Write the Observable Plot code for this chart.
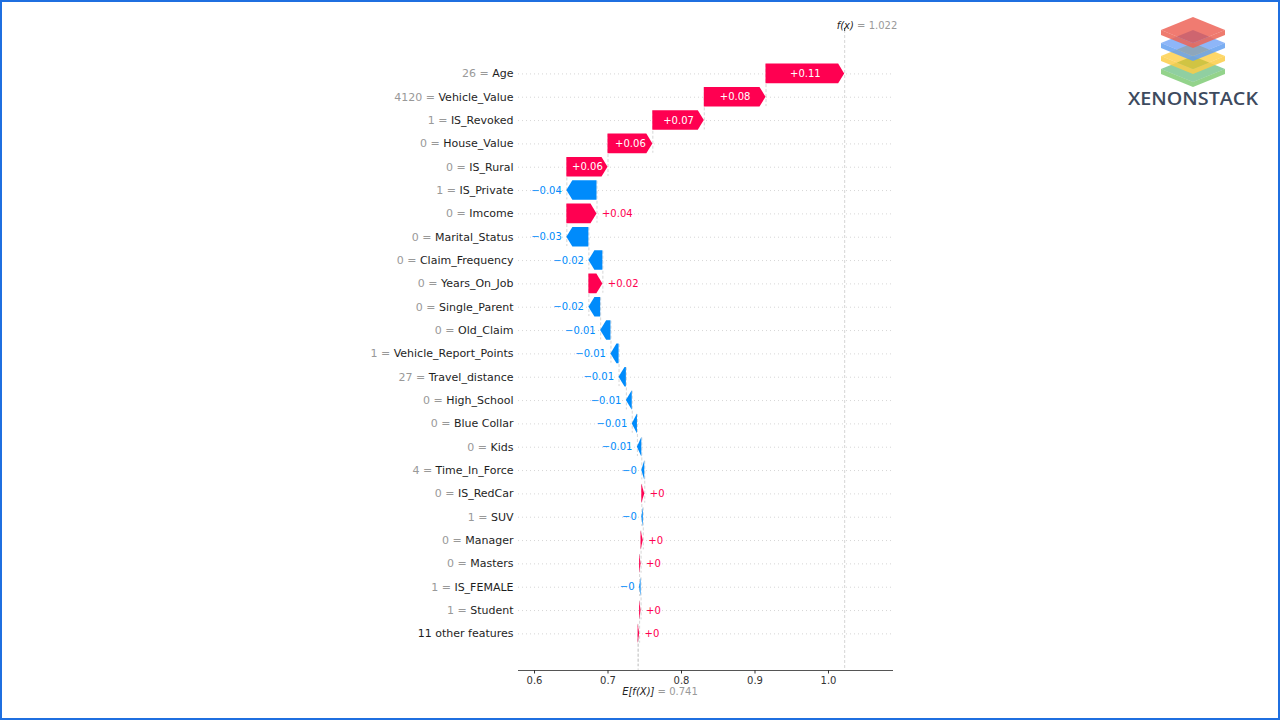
<!DOCTYPE html>
<html><head><meta charset="utf-8">
<script src="https://cdn.jsdelivr.net/npm/d3@7"></script>
<script src="https://cdn.jsdelivr.net/npm/@observablehq/plot@0.6"></script>
<style>
html,body{margin:0;padding:0;background:#fff;}
#wrap{position:relative;width:1280px;height:720px;overflow:hidden;background:#fff;}
#chart{position:absolute;left:0;top:0;}
#logo{position:absolute;left:1110px;top:0;}
#frame{position:absolute;left:0;top:0;width:1280px;height:720px;box-sizing:border-box;border:2px solid #1f6fe0;pointer-events:none;}
</style></head><body>
<div id="wrap">
<div id="chart"></div>
<div id="logo">
<svg width="160" height="115" viewBox="0 0 160 115">
  <g id="layers"></g>
  <text x="83" y="105" text-anchor="middle" font-family="'Open Sans', sans-serif" font-weight="600" font-size="18" fill="#3d4a5e" textLength="130" lengthAdjust="spacingAndGlyphs">XENONSTACK</text>
</svg>
</div>
<div id="frame"></div>
</div>
<script>
// ---- data ----
const features = ["Age","Vehicle_Value","IS_Revoked","House_Value","IS_Rural","IS_Private","Imcome","Marital_Status","Claim_Frequency","Years_On_Job","Single_Parent","Old_Claim","Vehicle_Report_Points","Travel_distance","High_School","Blue Collar","Kids","Time_In_Force","IS_RedCar","SUV","Manager","Masters","IS_FEMALE","Student","11 other features"];
const featureValues = ["26","4120","1","0","0","1","0","0","0","0","0","0","1","27","0","0","0","4","0","1","0","0","1","1",""];
const shapValues = [0.107,0.084,0.070,0.061,0.056,-0.041,0.041,-0.030,-0.019,0.019,-0.016,-0.014,-0.011,-0.010,-0.008,-0.007,-0.006,-0.004,0.004,-0.002,0.003,0.002,-0.002,0.002,0.002];
const baseValue = 0.741;
const fxValue = 1.022;
const xTicks = [0.6,0.7,0.8,0.9,1.0];

// ---- layout ----
const W = 1280, H = 720, mL = 518, mR = 388, mT = 30, mB = 50;
const xDomain = [0.5782, 1.0871];
const yDomain = [-1.86, 25.57];
const ppu = (W - mL - mR) / (xDomain[1] - xDomain[0]);
const RED = "#ff0051", BLUE = "#008bfb";
const FONT = "DejaVu Sans";

const ctx = document.createElement("canvas").getContext("2d");
function tw(s, size, style = "") { ctx.font = `${style} ${size}px "${FONT}"`; return ctx.measureText(s).width; }
function fmt(v) {
  let s = Math.abs(v).toFixed(2).replace(/0+$/, "").replace(/\.$/, "");
  return (v >= 0 ? "+" : "\u2212") + s;
}

const n = features.length;
const starts = new Array(n), ends = new Array(n);
let loc = baseValue;
for (let r = n - 1; r >= 0; r--) { starts[r] = loc; loc += shapValues[r]; ends[r] = loc; }

const rows = features.map((f, r) => ({r, name: f, fv: featureValues[r], v: shapValues[r], s: starts[r], e: ends[r], label: fmt(shapValues[r])}));

const hl = 6 / ppu, bh = 0.42;
const poly = [];
for (const d of rows) {
  const dist = d.e - d.s, sg = Math.sign(dist), h = Math.min(Math.abs(dist), hl);
  const neck = d.e - sg * h, col = d.v >= 0 ? RED : BLUE;
  poly.push({r: d.r, y: d.r - bh, x1: d.s, x2: neck, c: col});
  poly.push({r: d.r, y: d.r, x1: d.s, x2: d.e, c: col});
  poly.push({r: d.r, y: d.r + bh, x1: d.s, x2: neck, c: col});
}

const inside = rows.filter(d => Math.abs(d.e - d.s) * ppu - 6 > tw(d.label, 10) + 2);
const outside = rows.filter(d => !inside.includes(d));

const grayLabels = rows.filter(d => d.fv !== "").map(d => ({r: d.r, t: d.fv + " =", x: xDomain[0] - (5 + tw(d.name, 11) + tw(" ", 11)) / ppu}));

const fxW = tw("f(x)", 10, "italic");
const eW = tw("E[f(X)]", 10, "italic");
const spW = tw(" ", 10);

const chart = Plot.plot({
  width: W, height: H,
  marginLeft: mL, marginRight: mR, marginTop: mT, marginBottom: mB,
  x: {domain: xDomain},
  y: {domain: yDomain, reverse: true, axis: null},
  color: {type: "identity"},
  style: {fontFamily: FONT, background: "transparent"},
  marks: [
    Plot.ruleY(rows, {y: "r", stroke: "#cccccc", strokeWidth: 0.8, strokeDasharray: "1,3"}),
    Plot.ruleX(rows, {x: "s", y1: d => d.r - 0.4, y2: d => d.r + 1.4, stroke: "#bbbbbb", strokeWidth: 0.6, strokeDasharray: "3,2"}),
    Plot.ruleX([fxValue], {stroke: "#bbbbbb", strokeWidth: 0.6, strokeDasharray: "3,2"}),
    Plot.ruleX([baseValue], {y1: n - 1, y2: yDomain[1], stroke: "#bbbbbb", strokeWidth: 0.6, strokeDasharray: "3,2"}),
    Plot.areaX(poly, {y: "y", x1: "x1", x2: "x2", z: "r", fill: "c", curve: "linear"}),
    Plot.text(inside, {x: d => (d.s + d.e) / 2, y: "r", text: "label", fill: "#ffffff", fontSize: 10}),
    Plot.text(outside.filter(d => d.v >= 0), {x: "e", y: "r", text: "label", fill: RED, fontSize: 10, textAnchor: "start", dx: 5}),
    Plot.text(outside.filter(d => d.v < 0), {x: "e", y: "r", text: "label", fill: BLUE, fontSize: 10, textAnchor: "end", dx: -5}),
    Plot.text(rows, {y: "r", text: "name", frameAnchor: "left", dx: -5, textAnchor: "end", fontSize: 11, fill: "#1e1e1e"}),
    Plot.text(grayLabels, {x: "x", y: "r", text: "t", textAnchor: "end", fontSize: 11, fill: "#999999"}),
    Plot.frame({anchor: "bottom", stroke: "#555555"}),
    Plot.axisX({anchor: "bottom", ticks: xTicks, tickFormat: d => d.toFixed(1), tickSize: 3.5, tickPadding: 3, fontSize: 10, color: "#333333", label: null}),
    Plot.axisX({anchor: "top", ticks: [fxValue], tickFormat: () => "", tickSize: 3, color: "#333333", label: null}),
    Plot.text([fxValue], {x: d => d - 8 / ppu, frameAnchor: "top", dy: -9, text: () => "f(x)", fontStyle: "italic", fontSize: 10, fill: "#222", textAnchor: "start"}),
    Plot.text([fxValue], {x: d => d + (-8 + fxW + spW) / ppu, frameAnchor: "top", dy: -9, text: d => "= " + d.toFixed(3), fontSize: 10, fill: "#999999", textAnchor: "start"}),
    Plot.text([baseValue], {x: d => d - 16 / ppu, frameAnchor: "bottom", dy: 24, text: () => "E[f(X)]", fontStyle: "italic", fontSize: 10, fill: "#222", textAnchor: "start"}),
    Plot.text([baseValue], {x: d => d + (-16 + eW + spW) / ppu, frameAnchor: "bottom", dy: 24, text: d => "= " + d.toFixed(3), fontSize: 10, fill: "#999999", textAnchor: "start"})
  ]
});
document.getElementById("chart").appendChild(chart);

// ---- logo layers ----
const layerColors = [
  {cy: 69, top: "rgba(52,168,83,0.55)", side: "rgba(120,200,110,0.8)"},
  {cy: 56, top: "rgba(251,188,5,0.6)", side: "rgba(252,205,70,0.85)"},
  {cy: 43, top: "rgba(66,133,244,0.6)", side: "rgba(100,160,240,0.85)"},
  {cy: 30, top: "rgba(234,67,53,0.7)", side: "rgba(235,100,85,0.85)"}
];
const cx = 83, hw = 32, hh = 13, th = 5;
const g = d3.select("#layers");
for (const L of layerColors) {
  g.append("polygon").attr("points", [[cx - hw, L.cy], [cx, L.cy + hh], [cx + hw, L.cy], [cx + hw, L.cy + th], [cx, L.cy + hh + th], [cx - hw, L.cy + th]].join(" ")).attr("fill", L.side);
  g.append("polygon").attr("points", [[cx, L.cy - hh], [cx + hw, L.cy], [cx, L.cy + hh], [cx - hw, L.cy]].join(" ")).attr("fill", L.top);
}
</script>
</body></html>
